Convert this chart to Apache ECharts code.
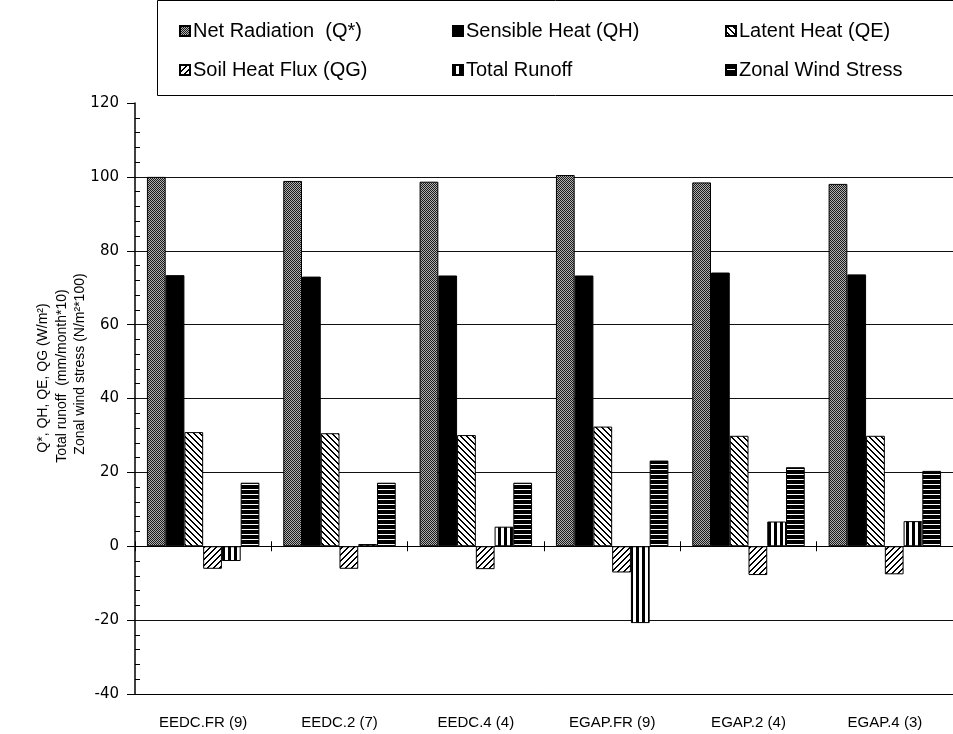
<!DOCTYPE html>
<html><head><meta charset="utf-8">
<script src="https://cdn.jsdelivr.net/npm/echarts@6/dist/echarts.min.js"></script>
<style>html,body{margin:0;padding:0;background:#fff}#c{width:953px;height:734px}</style>
</head><body><div id="c"></div>
<script>
const categories = ['EEDC.FR (9)', 'EEDC.2 (7)', 'EEDC.4 (4)', 'EGAP.FR (9)', 'EGAP.2 (4)', 'EGAP.4 (3)'];
const netRadiation = [100.0, 98.9, 98.7, 100.5, 98.5, 98.1];
const sensibleHeat = [73.4, 73.0, 73.3, 73.3, 74.1, 73.6];
const latentHeat = [30.9, 30.6, 30.1, 32.4, 29.9, 29.9];
const soilHeatFlux = [-6.1, -6.1, -6.2, -7.1, -7.8, -7.6];
const totalRunoff = [-4.0, 0.6, 5.3, -20.8, 6.7, 6.8];
const zonalWindStress = [17.2, 17.2, 17.2, 23.2, 21.4, 20.4];
const seriesNames = ['Net Radiation  (Q*)', 'Sensible Heat (QH)', 'Latent Heat (QE)', 'Soil Heat Flux (QG)', 'Total Runoff', 'Zonal Wind Stress'];
const yTicks = {min: -40, max: 120, interval: 20};

function makePattern(size, fn) {
  const cv = document.createElement('canvas');
  cv.width = size; cv.height = size;
  const ctx = cv.getContext('2d');
  for (let x = 0; x < size; x++) for (let y = 0; y < size; y++) {
    ctx.fillStyle = fn(x, y);
    ctx.fillRect(x, y, 1, 1);
  }
  return {image: cv, repeat: 'repeat'};
}
const patStipple = makePattern(4, (x, y) => ((x + y) % 2 === 0) ? '#1a1a1a' : '#b0b0b0');
const patBack = makePattern(6, (x, y) => { const m = ((x - y) % 6 + 6) % 6; return (m < 2) ? '#000' : '#fff'; });
const patFwd = makePattern(6, (x, y) => { const m = (x + y) % 6; return (m < 2) ? '#000' : '#fff'; });
const patVert = makePattern(6, (x, y) => (x % 6 < 3) ? '#000' : '#fff');
const patHorz = makePattern(5, (x, y) => (y % 5 < 4) ? '#000' : '#fff');

const values = [netRadiation, sensibleHeat, latentHeat, soilHeatFlux, totalRunoff, zonalWindStress];
const fills = [patStipple, '#000', patBack, patFwd, patVert, patHorz];

const chart = echarts.init(document.getElementById('c'), null, {renderer: 'canvas'});
const font = 'Liberation Sans, Arial, sans-serif';

const legendPos = [[179, 21], [452, 21], [725, 21], [179, 60], [452, 60], [725, 60]];
const legends = seriesNames.map((n, i) => ({
  data: [{name: n, icon: 'rect'}], left: legendPos[i][0], top: legendPos[i][1], itemWidth: 10, itemHeight: 10, itemGap: 0,
  padding: 0, textStyle: {fontFamily: font, fontSize: 20, color: '#000', padding: [0, 0, 0, -2]}
}));

chart.setOption({
  backgroundColor: '#fff',
  animation: false,
  legend: legends,
  grid: {left: 135, right: 0, top: 103, bottom: 40, containLabel: false},
  xAxis: [
    {type: 'category', data: categories, position: 'bottom',
     axisLine: {onZero: false, lineStyle: {color: '#000', width: 1}},
     axisTick: {show: false},
     axisLabel: {fontFamily: font, fontSize: 15, color: '#000', margin: 21}},
    {type: 'category', data: categories, position: 'bottom',
     axisLine: {onZero: true, onZeroAxisIndex: 0, lineStyle: {color: '#000', width: 1}},
     axisTick: {show: true, inside: true, length: 5, lineStyle: {color: '#000'}},
     axisLabel: {show: false}},
    {type: 'category', data: categories, position: 'bottom',
     axisLine: {show: false, onZero: true, onZeroAxisIndex: 0},
     axisTick: {show: true, inside: false, length: 5, lineStyle: {color: '#000'}},
     axisLabel: {show: false}}
  ],
  yAxis: [
    {type: 'value', min: yTicks.min, max: yTicks.max, interval: yTicks.interval,
     axisLine: {show: true, lineStyle: {color: '#000', width: 1.5}},
     axisTick: {show: true, inside: false, length: 8, lineStyle: {color: '#000'}},
     axisLabel: {fontFamily: 'DejaVu Sans, sans-serif', fontSize: 15, color: '#000', margin: 16},
     splitLine: {show: true, showMaxLine: false, showMinLine: false, lineStyle: {color: '#111', width: 1}}},
    {type: 'value', min: yTicks.min, max: yTicks.max, interval: yTicks.interval, position: 'left',
     axisLine: {show: false},
     axisTick: {show: false, inside: true},
     minorTick: {show: true, splitNumber: 5, length: 5, lineStyle: {color: '#000', width: 1}},
     axisLabel: {show: false}, splitLine: {show: false}}
  ],
  series: seriesNames.map((n, i) => ({
    name: n, type: 'bar', data: values[i], xAxisIndex: 0, yAxisIndex: 0,
    barGap: '0%', barCategoryGap: '17.5%',
    itemStyle: {color: fills[i], borderColor: '#000', borderWidth: 1}
  })),
  graphic: [
    {type: 'rect', shape: {x: 157.5, y: 0.5, width: 800, height: 95}, style: {fill: null, stroke: '#000', lineWidth: 1}, z: -1},
    {type: 'text', x: 43, y: 378, rotation: Math.PI / 2, style: {text: 'Q*, QH, QE, QG (W/m²)', fontFamily: font, fontSize: 14, fill: '#000', align: 'center', verticalAlign: 'middle'}},
    {type: 'text', x: 62, y: 376, rotation: Math.PI / 2, style: {text: 'Total runoff  (mm/month*10)', fontFamily: font, fontSize: 14, fill: '#000', align: 'center', verticalAlign: 'middle'}},
    {type: 'text', x: 80, y: 364, rotation: Math.PI / 2, style: {text: 'Zonal wind stress (N/m²*100)', fontFamily: font, fontSize: 14, fill: '#000', align: 'center', verticalAlign: 'middle'}}
  ]
});
</script></body></html>
